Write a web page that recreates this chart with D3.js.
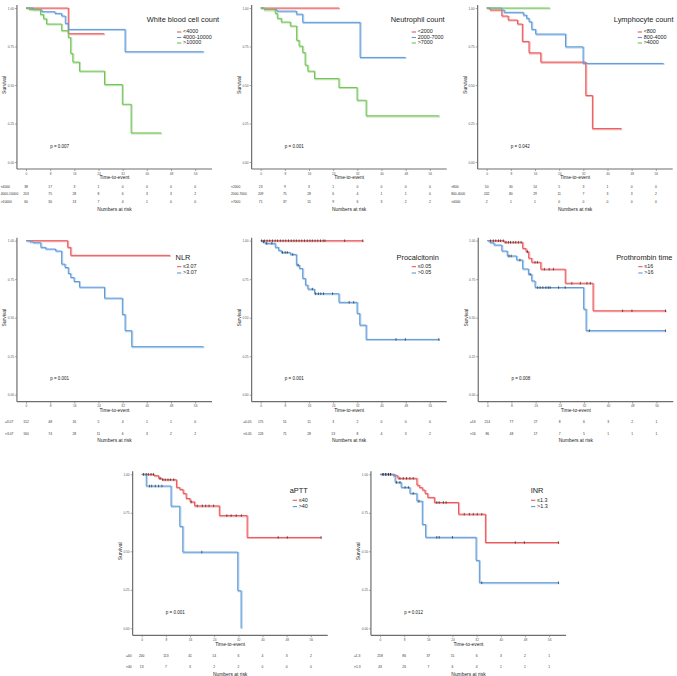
<!DOCTYPE html>
<html><head><meta charset="utf-8">
<script src="https://cdn.jsdelivr.net/npm/d3@7"></script>
<style>body{margin:0;background:#fff} svg{display:block} text{font-family:"Liberation Sans",Arial,sans-serif}</style>
</head><body><svg id="c" width="677" height="676"></svg>
<script>
// ---------- shared tick labels ----------
const timeTicks = [0, 8, 16, 24, 32, 40, 48, 56];
const survTicks = [0, 0.25, 0.5, 0.75, 1];

// ---------- White blood cell count ----------
const wbcGroups = ["<4000", "4000-10000", ">10000"];
const wbcLow = [[0,1],[14.0,0.833],[25.9,0.833]];
const wbcMid = [[0,1],[2.4,0.989],[5.2,0.976],[9.6,0.965],[11.8,0.948],[13.0,0.90],[14.0,0.861],[32.8,0.716],[58.8,0.716]];
const wbcHigh = [[0,1],[1.1,0.99],[4.8,0.957],[5.8,0.93],[6.8,0.896],[11.8,0.853],[14.0,0.809],[14.8,0.705],[15.5,0.649],[17.7,0.59],[26.0,0.503],[31.9,0.375],[34.8,0.189],[44.8,0.189]];
const wbcRisk = [[38,17,3,1,0,0,0,0],[203,75,28,8,6,3,3,2],[60,30,13,7,4,1,0,0]];

// ---------- Neutrophil count ----------
const neuGroups = ["<2000", "2000-7000", ">7000"];
const neuLow = [[0,1],[26.0,1]];
const neuMid = [[0,1],[1.2,0.99],[5.3,0.98],[11.8,0.96],[13.9,0.907],[32.9,0.679],[48.0,0.679]];
const neuHigh = [[0,1],[1.2,0.99],[4.8,0.965],[5.5,0.933],[6.8,0.909],[9.8,0.883],[11.9,0.79],[12.7,0.753],[13.9,0.711],[14.7,0.629],[15.6,0.59],[17.8,0.542],[25.9,0.484],[31.9,0.401],[34.9,0.30],[59.1,0.30]];
const neuRisk = [[23,9,3,1,0,0,0,0],[209,75,28,6,4,1,1,0],[71,37,15,9,6,3,2,2]];

// ---------- Lymphocyte count ----------
const lymGroups = ["<800", "800-4000", ">4000"];
const lymLow = [[0,1],[1.1,0.987],[5.0,0.948],[7.1,0.922],[10.2,0.896],[11.8,0.783],[14.0,0.709],[17.9,0.649],[32.8,0.432],[35.0,0.217],[44.6,0.217]];
const lymMid = [[0,1],[5.0,0.987],[5.8,0.972],[12.1,0.954],[13.2,0.933],[14.0,0.911],[14.9,0.861],[16.2,0.831],[26.1,0.748],[31.9,0.64],[58.6,0.64]];
const lymHigh = [[0,1],[20.9,1]];
const lymRisk = [[50,30,14,5,3,1,0,0],[242,80,29,11,7,3,3,2],[2,1,1,0,0,0,0,0]];

// ---------- NLR ----------
const nlrGroups = ["\u22643.07", ">3.07"];
const nlrLow = [[0,1],[13.8,0.957],[14.8,0.905],[47.7,0.905]];
const nlrHigh = [[0,1],[1.3,0.993],[2.4,0.987],[4.9,0.957],[6.5,0.946],[9.8,0.933],[11.8,0.848],[12.9,0.826],[14.0,0.787],[14.8,0.761],[15.9,0.735],[17.7,0.698],[26.0,0.627],[31.9,0.521],[32.8,0.416],[35.0,0.312],[58.8,0.312]];
const nlrRisk = [[152,48,16,5,4,1,1,0],[160,74,28,11,6,3,2,2]];

// ---------- Procalcitonin ----------
const pctGroups = ["\u22640.05", ">0.05"];
const pctLow = [[0,1],[33.9,1]];
const pctHigh = [[0,1],[0.7,0.993],[1.4,0.983],[4.8,0.957],[5.9,0.937],[6.8,0.924],[9.8,0.911],[11.8,0.842],[12.8,0.82],[13.9,0.755],[14.8,0.712],[15.6,0.686],[17.8,0.656],[25.9,0.6],[31.9,0.528],[32.8,0.452],[34.9,0.359],[59.1,0.359]];
const pctLowCensor = [0.3,1.2,2.1,3.0,3.9,4.8,5.6,6.5,7.4,8.3,9.2,10.1,11.0,11.8,12.7,13.6,14.5,15.4,16.3,17.1,18.0,18.9,19.8,20.7,21.3,27.8,33.8];
const pctHighCensor = [0.9,2.0,3.7,7.2,8.1,8.8,10.6,12.4,17.1,18.2,19.1,19.9,20.8,23.8,29.3,30.8,44.8,47.9,59.0];
const pctRisk = [[175,51,11,3,2,0,0,0],[126,71,28,13,8,4,3,2]];

// ---------- Prothrombin time ----------
const ptGroups = ["\u226416", ">16"];
const ptLow = [[0,1],[5.6,0.99],[11.7,0.95],[12.8,0.929],[13.7,0.886],[14.7,0.86],[17.7,0.815],[25.8,0.724],[35.0,0.545],[59.2,0.545]];
const ptHigh = [[0,1],[0.9,0.987],[2.2,0.972],[4.8,0.933],[6.6,0.901],[9.7,0.875],[11.7,0.817],[13.6,0.782],[14.7,0.739],[15.8,0.696],[31.9,0.556],[32.7,0.416],[59.0,0.416]];
const ptLowCensor = [1.1,2.0,2.8,3.7,4.4,5.3,6.2,7.0,7.7,8.6,9.4,10.3,11.2,13.3,15.8,16.6,18.9,20.5,21.9,28.0,30.8,33.0,34.1,44.8,47.9,59.0];
const ptHighCensor = [7.2,7.9,10.8,14.2,16.7,17.5,18.4,19.4,20.2,20.8,23.6,25.8,33.8,59.0];
const ptRisk = [[214,77,27,8,6,3,2,1],[86,48,17,7,5,1,1,1]];

// ---------- aPTT ----------
const apttGroups = ["\u226440", ">40"];
const apttLow = [[0,1],[4.1,0.991],[5.6,0.974],[6.7,0.965],[11.5,0.915],[12.6,0.902],[13.7,0.876],[14.7,0.843],[16.0,0.821],[17.5,0.795],[25.7,0.732],[34.9,0.59],[59.4,0.59]];
const apttHigh = [[0,1],[1.5,0.924],[9.7,0.793],[12.6,0.662],[13.6,0.495],[31.8,0.244],[32.9,0]];
const apttLowCensor = [0.6,1.5,2.2,3.1,3.9,6.1,7.0,7.8,8.7,9.5,10.6,16.4,18.4,20.1,21.2,22.3,23.8,28.2,29.6,31.3,33.0,45.2,48.2,59.4];
const apttHighCensor = [2.6,3.3,4.5,5.6,6.7,19.9];
const apttRisk = [[200,113,41,14,6,4,3,2],[13,7,3,2,2,0,0,0]];

// ---------- INR ----------
const inrGroups = ["\u22641.3", ">1.3"];
const inrLow = [[0,1],[4.4,0.991],[5.9,0.974],[12.2,0.93],[13.0,0.915],[14.0,0.898],[14.9,0.876],[15.8,0.85],[18.0,0.817],[26.0,0.741],[34.9,0.557],[59.1,0.557]];
const inrHigh = [[0,1],[5.0,0.948],[7.0,0.915],[9.9,0.876],[12.2,0.826],[14.0,0.674],[15.1,0.591],[31.8,0.441],[32.9,0.296],[59.1,0.296]];
const inrLowCensor = [1.1,1.9,2.8,3.5,6.6,7.7,8.8,9.9,11.0,18.8,19.6,21.0,21.9,27.9,29.6,30.9,32.2,33.7,44.8,47.8,59.1];
const inrHighCensor = [0.9,1.9,2.8,3.5,5.5,6.6,8.3,9.4,11.0,12.9,18.8,19.6,24.0,33.7,59.1];
const inrRisk = [[258,86,37,15,6,3,2,1],[43,26,7,6,4,1,1,1]];

// ---------- styling / layout ----------
const RED = "#E9585A", BLUE = "#5E9AD6", GREEN = "#72C259";
const HALO = {[RED]: "#F6AFB0", [BLUE]: "#B3D0EE", [GREEN]: "#BDE4AE"};

const panels = [
  {title:"White blood cell count", groups:wbcGroups, series:[wbcLow,wbcMid,wbcHigh], colors:[RED,BLUE,GREEN], risk:wbcRisk, p:"p = 0.007", zero:26, top:8, labelX:-25.3},
  {title:"Neutrophil count", groups:neuGroups, series:[neuLow,neuMid,neuHigh], colors:[RED,BLUE,GREEN], risk:neuRisk, p:"p = 0.001", zero:260.7, top:8, labelX:-29.7},
  {title:"Lymphocyte count", groups:lymGroups, series:[lymLow,lymMid,lymHigh], colors:[RED,BLUE,GREEN], risk:lymRisk, p:"p = 0.042", zero:486.7, top:8, labelX:-35.5},
  {title:"NLR", groups:nlrGroups, series:[nlrLow,nlrHigh], colors:[RED,BLUE], risk:nlrRisk, p:"p = 0.001", zero:26, top:240.7, labelX:-21},
  {title:"Procalcitonin", groups:pctGroups, series:[pctLow,pctHigh], censor:[pctLowCensor,pctHighCensor], colors:[RED,BLUE], risk:pctRisk, p:"p = 0.001", zero:260.7, top:240.7, labelX:-17.4},
  {title:"Prothrombin time", groups:ptGroups, series:[ptLow,ptHigh], censor:[ptLowCensor,ptHighCensor], colors:[RED,BLUE], risk:ptRisk, p:"p = 0.008", zero:487.3, top:240.7, labelX:-17.3},
  {title:"aPTT", groups:apttGroups, series:[apttLow,apttHigh], censor:[apttLowCensor,apttHighCensor], colors:[RED,BLUE], risk:apttRisk, p:"p = 0.001", zero:141.7, top:474.3, labelX:-15.7},
  {title:"INR", groups:inrGroups, series:[inrLow,inrHigh], censor:[inrLowCensor,inrHighCensor], colors:[RED,BLUE], risk:inrRisk, p:"p = 0.012", zero:380, top:474.3, labelX:-26}
];

const svg = d3.select("#c");
const PX = 3.02, H = 154;

function stepValue(series, t) {
  let v = series[0][1];
  for (const [tt, s] of series) { if (tt <= t) v = s; }
  return v;
}

function drawPanel(cfg) {
  const g = svg.append("g");
  const x = d3.scaleLinear().domain([0, 56]).range([cfg.zero, cfg.zero + 56 * PX]);
  const y = d3.scaleLinear().domain([0, 1]).range([cfg.top + H, cfg.top]);
  const bottom = y(0);
  const axisY = bottom + 7;
  const axisX = x(-3);
  const right = x(61.6);
  const n = cfg.groups.length;

  g.append("line").attr("x1", axisX).attr("x2", axisX).attr("y1", y(1) - 3).attr("y2", axisY)
    .attr("stroke", "#6e6e6e").attr("stroke-width", 1.2);
  g.append("line").attr("x1", axisX).attr("x2", right).attr("y1", axisY).attr("y2", axisY)
    .attr("stroke", "#6e6e6e").attr("stroke-width", 1.2);

  const yAxis = g.append("g").attr("transform", `translate(${axisX},0)`)
    .call(d3.axisLeft(y).tickValues(survTicks).tickFormat(d3.format(".2f")).tickSize(2).tickPadding(1));
  const xAxis = g.append("g").attr("transform", `translate(0,${axisY})`)
    .call(d3.axisBottom(x).tickValues(timeTicks).tickSize(2).tickPadding(1.3));
  [yAxis, xAxis].forEach(a => {
    a.select(".domain").remove();
    a.selectAll(".tick line").attr("stroke", "#6e6e6e").attr("stroke-width", 0.6);
    a.selectAll(".tick text").attr("font-size", 3.2).attr("fill", "#555")
      .attr("font-family", '"Liberation Sans",Arial,sans-serif');
  });

  const line = d3.line().x(d => x(d[0])).y(d => y(d[1])).curve(d3.curveStepAfter);
  cfg.series.forEach((s, i) => {
    g.append("path").attr("d", line(s)).attr("fill", "none")
      .attr("stroke", HALO[cfg.colors[i]]).attr("stroke-width", 1.6)
      .attr("transform", "translate(0.8,0.8)");
  });
  cfg.series.forEach((s, i) => {
    g.append("path").attr("d", line(s)).attr("fill", "none")
      .attr("stroke", cfg.colors[i]).attr("stroke-width", 1.0);
  });
  if (cfg.censor) {
    cfg.censor.forEach((c, i) => {
      g.selectAll(null).data(c).enter().append("line")
        .attr("x1", d => x(d)).attr("x2", d => x(d))
        .attr("y1", d => y(stepValue(cfg.series[i], d)) - 1.3)
        .attr("y2", d => y(stepValue(cfg.series[i], d)) + 1.3)
        .attr("stroke", "#2b2b2b").attr("stroke-width", 0.7);
    });
  }

  g.append("text").attr("x", x(8)).attr("y", y(0.1)).attr("dominant-baseline", "middle")
    .attr("font-size", 4.5).attr("fill", "#222").text(cfg.p);

  const lx = cfg.zero + 151;
  g.append("text").attr("x", cfg.zero + 157).attr("y", cfg.top + (n === 3 ? 12 : 17))
    .attr("text-anchor", "middle").attr("dominant-baseline", "middle")
    .attr("font-size", 7.4).attr("fill", "#222").text(cfg.title);
  const rows = n === 3 ? [24, 29.5, 35] : [26, 32.3];
  cfg.groups.forEach((gName, i) => {
    const yy = cfg.top + rows[i];
    g.append("line").attr("x1", lx).attr("x2", lx + 4.3).attr("y1", yy).attr("y2", yy)
      .attr("stroke", cfg.colors[i]).attr("stroke-width", 1.1);
    g.append("text").attr("x", lx + 6).attr("y", yy).attr("dominant-baseline", "middle")
      .attr("font-size", 5.4).attr("fill", "#222").text(gName);
  });

  g.append("text").attr("transform", `translate(${cfg.zero - 21},${cfg.top + H / 2}) rotate(-90)`)
    .attr("text-anchor", "middle").attr("dominant-baseline", "middle")
    .attr("font-size", 5).attr("fill", "#222").text("Survival");
  g.append("text").attr("x", (axisX + right) / 2).attr("y", bottom + 16)
    .attr("text-anchor", "middle").attr("dominant-baseline", "middle")
    .attr("font-size", 4.9).attr("fill", "#222").text("Time-to-event");

  const riskRows = n === 3 ? [25, 32.5, 40] : [27.5, 39];
  cfg.risk.forEach((r, i) => {
    const yy = bottom + riskRows[i];
    g.append("text").attr("x", cfg.zero + cfg.labelX).attr("y", yy).attr("dominant-baseline", "middle")
      .attr("font-size", 3.3).attr("fill", "#333").text(cfg.groups[i]);
    g.selectAll(null).data(r).enter().append("text")
      .attr("x", (d, k) => x(timeTicks[k])).attr("y", yy)
      .attr("text-anchor", "middle").attr("dominant-baseline", "middle")
      .attr("font-size", 3.3).attr("fill", "#333").text(d => d);
  });
  g.append("text").attr("x", (axisX + right) / 2).attr("y", bottom + (n === 3 ? 48 : 46))
    .attr("text-anchor", "middle").attr("dominant-baseline", "middle")
    .attr("font-size", 4.9).attr("fill", "#222").text("Numbers at risk");
}

panels.forEach(drawPanel);
</script>
</body></html>
